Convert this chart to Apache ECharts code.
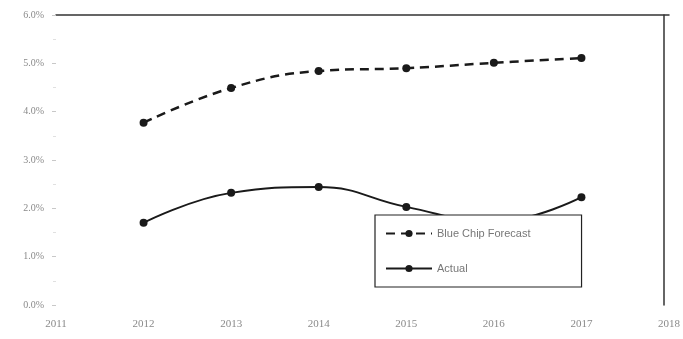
<!DOCTYPE html>
<html>
<head>
<meta charset="utf-8">
<script src="https://cdn.jsdelivr.net/npm/echarts@6/dist/echarts.min.js"></script>
<style>
  html, body { margin: 0; padding: 0; background: #fff; }
  #chart { width: 683px; height: 339px; }
</style>
</head>
<body>
<div id="chart"></div>
<script>
// Years on the horizontal axis
const years = [2012, 2013, 2014, 2015, 2016, 2017];
// Growth rates, in percent
const blueChipForecast = [3.77, 4.49, 4.84, 4.90, 5.01, 5.11];
const actual = [1.70, 2.32, 2.44, 2.03, 1.72, 2.23];
// Axis ranges
const yearMin = 2011, yearMax = 2018;
const pctMin = 0, pctMax = 6, pctStep = 1;

const toPairs = (xs, ys) => xs.map((x, i) => [x, ys[i]]);
const ink = '#1a1a1a';
const labelColor = '#8a8a8a';

const chart = echarts.init(document.getElementById('chart'));
chart.setOption({
  backgroundColor: '#fff',
  animation: false,
  grid: { left: 56, right: 13, top: 15, bottom: 34 },
  xAxis: [{
    type: 'value', min: yearMin, max: yearMax, interval: 1,
    axisLine: { show: false },
    axisTick: { show: false },
    splitLine: { show: false },
    axisLabel: {
      color: labelColor, fontFamily: 'Liberation Serif', fontSize: 11,
      margin: 14, formatter: v => String(v)
    }
  }, {
    // top border of the plot
    type: 'value', position: 'top', min: yearMin, max: yearMax,
    axisLine: { show: true, onZero: false, lineStyle: { color: '#333', width: 1.5 } },
    axisTick: { show: false }, axisLabel: { show: false }, splitLine: { show: false }
  }],
  yAxis: [{
    type: 'value', min: pctMin, max: pctMax, interval: pctStep,
    axisLine: { show: false },
    axisTick: { show: true, length: 4, lineStyle: { color: '#c8c8c8' } },
    minorTick: { show: true, splitNumber: 2, length: 3, lineStyle: { color: '#e0e0e0' } },
    splitLine: { show: false },
    axisLabel: {
      color: labelColor, fontFamily: 'Liberation Serif', fontSize: 10, margin: 12,
      formatter: v => v.toFixed(1) + '%'
    }
  }, {
    // right border of the plot
    type: 'value', position: 'right', offset: -5, min: pctMin, max: pctMax,
    axisLine: { show: true, onZero: false, lineStyle: { color: '#333', width: 1.5 } },
    axisTick: { show: false }, axisLabel: { show: false }, splitLine: { show: false }
  }],
  legend: {
    orient: 'vertical',
    left: 375, top: 215,
    padding: [13, 51, 13, 10],
    itemGap: 24,
    itemWidth: 46, itemHeight: 9,
    backgroundColor: '#fff',
    borderColor: '#222', borderWidth: 1.2,
    textStyle: { color: '#777', fontFamily: 'Liberation Sans', fontSize: 11 },
    data: ['Blue Chip Forecast', 'Actual']
  },
  series: [{
    name: 'Blue Chip Forecast',
    type: 'line',
    smooth: 0.45,
    data: toPairs(years, blueChipForecast),
    symbol: 'circle', symbolSize: 8,
    itemStyle: { color: ink },
    lineStyle: { color: ink, width: 2.5, type: [9, 6] },
    z: 3
  }, {
    name: 'Actual',
    type: 'line',
    smooth: 0.45,
    data: toPairs(years, actual),
    symbol: 'circle', symbolSize: 8,
    itemStyle: { color: ink },
    lineStyle: { color: ink, width: 2 },
    z: 3
  }]
});
</script>
</body>
</html>
